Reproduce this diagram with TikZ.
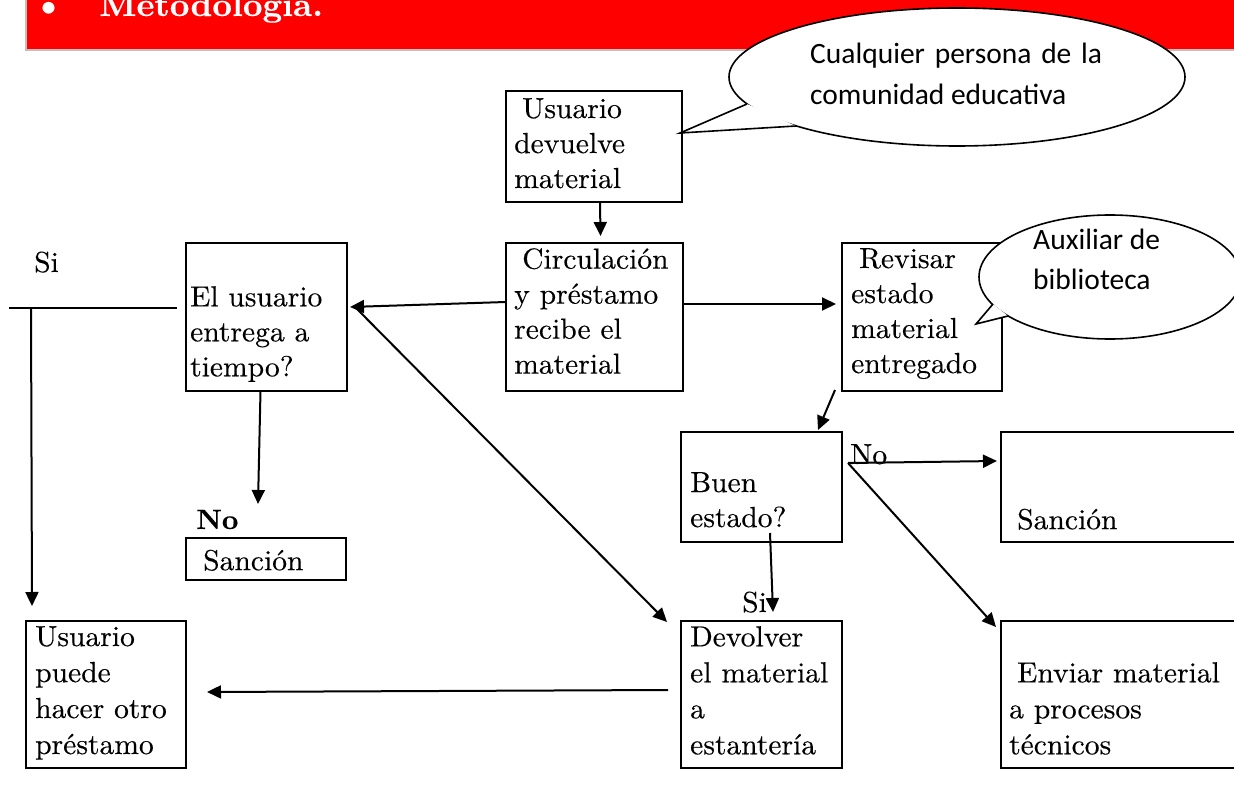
\documentclass[tikz,border=0pt]{standalone}
\usepackage{fontspec}
\setmainfont{lmroman10-regular.otf}[
  BoldFont=lmroman10-bold.otf,
  ItalicFont=lmroman10-italic.otf,
  BoldItalicFont=lmroman10-bolditalic.otf,
  FakeStretch=1.02, FakeBold=0.3]
\newfontfamily\calloutfont{Carlito}
\usetikzlibrary{arrows.meta}
\definecolor{bandred}{RGB}{255,0,0}
\definecolor{bandedge}{RGB}{191,191,191}
\begin{document}
\begin{tikzpicture}[x=1pt,y=-1pt,
  box/.style={draw=black, line width=2pt, anchor=north west, inner sep=0pt, outer sep=0pt},
  txt/.style={anchor=north west, inner sep=0pt, align=left,
    font=\fontsize{29}{35}\selectfont, execute at begin node={\rule{0pt}{24pt}}},
  txtwide/.style={txt, font=\fontsize{29}{36}\selectfont},
  lbl/.style={anchor=base west, inner sep=0pt, font=\fontsize{29}{35}\selectfont},
  bubble/.style={draw=black, line width=1.6pt, fill=white},
  bubtxt/.style={anchor=north west, inner sep=0pt, align=left,
    font=\calloutfont\fontsize{29.5}{41}\selectfont, execute at begin node={\rule{0pt}{24pt}}},
  link/.style={draw=black, line width=2pt},
  arr/.style={link, -{Triangle[length=14pt,width=13pt]}}]
\useasboundingbox (0,0) rectangle (1234,805);

% heading band
\fill[bandred] (25,0) rectangle (1240,49);
\draw[bandedge, line width=2pt] (26,0) -- (26,50) -- (1240,50);
\node[anchor=base, inner sep=0pt, text=white, font=\fontsize{40}{40}\selectfont] (bullet) at (48.5,17) {\textbullet};
\node[anchor=base west, inner sep=0pt, text=white, font=\fontsize{33.5}{33.5}\selectfont\bfseries] (title) at (99,16) {Metodología.};

% process boxes
\node[box, minimum width=176pt, minimum height=111pt] (dev) at (506,91) {};
\node[box, minimum width=177pt, minimum height=148pt] (circ) at (506,243) {};
\node[box, minimum width=160pt, minimum height=148pt] (rev) at (842,243) {};
\node[box, minimum width=161pt, minimum height=148pt] (usr) at (186,243) {};
\node[box, minimum width=161pt, minimum height=110pt] (buen) at (681,432) {};
\node[box, minimum width=260pt, minimum height=110pt] (sanR) at (1001,432) {};
\node[box, minimum width=160pt, minimum height=42pt] (sanL) at (186,538) {};
\node[box, minimum width=160pt, minimum height=147pt] (puede) at (26,621) {};
\node[box, minimum width=161pt, minimum height=147pt] (devol) at (681,621) {};
\node[box, minimum width=260pt, minimum height=147pt] (env) at (1001,621) {};

% speech bubble: community
\draw[bubble] (957,77) ellipse [x radius=228pt, y radius=69pt];
\fill[white] (747,104) -- (680,133) -- (796,126) -- cycle;
\draw[black, line width=1.6pt, line join=miter] (747,104) -- (680,133) -- (796,126);
\node[bubtxt] (comm) at (810,43) {\makebox[292pt][s]{Cualquier persona de la}\\comunidad educativa};

% speech bubble: assistant
\draw[bubble] (1110,277) ellipse [x radius=131pt, y radius=62pt];
\fill[white] (993,304) -- (976,324) -- (1008,316) -- cycle;
\draw[black, line width=1.6pt, line join=miter] (993,304) -- (976,324) -- (1008,316);
\node[bubtxt, font=\calloutfont\fontsize{29.5}{40}\selectfont] (aux) at (1033,229) {Auxiliar de\\biblioteca};

% box texts
\node[txt] (t-dev) at (514,98) {\hspace*{8pt}Usuario\\devuelve\\material};
\node[txt] (t-circ) at (514,248) {\hspace*{8pt}Circulación\\y préstamo\\recibe el\\material};
\node[txt] (t-rev) at (851,248) {\hspace*{8pt}Revisar\\estado\\material\\entregado};
\node[txt] (t-usr) at (190,286) {El usuario\\entrega a\\tiempo?};
\node[txt] (t-buen) at (690,472) {Buen\\estado?};
\node[txt] (t-sanR) at (1009,505) {\hspace*{8pt}Sanción};
\node[txt] (t-sanL) at (195,546) {\hspace*{8pt}Sanción};
\node[txtwide] (t-puede) at (35,626) {Usuario\\puede\\hacer otro\\préstamo};
\node[txtwide] (t-devol) at (690,626) {Devolver\\el material\\a\\estantería};
\node[txtwide] (t-env) at (1009,662) {\hspace*{8pt}Enviar material\\a procesos\\técnicos};

% branch labels
\node[lbl] (si-top) at (34,272) {Si};
\node[lbl, font=\fontsize{28}{35}\selectfont\bfseries] (no-left) at (196,529) {No};
\node[lbl] (no-right) at (850,464) {No};
\node[lbl] (si-low) at (742,612) {Si};

% connectors
\coordinate (si-l) at (9,308);
\coordinate (si-j) at (31,308);
\coordinate (no-r) at ([shift={(6,31)}]buen.north east);

\draw[arr] ([shift={(6,0)}]dev.south) -- ([shift={(6,-7)}]circ.north);
\draw[arr] ([shift={(0,-15)}]circ.west) -- ([shift={(3,-10)}]usr.east);
\draw[arr] ([shift={(0,-13)}]circ.east) -- ([shift={(-6,-13)}]rev.west);
\draw[arr] ([shift={(10,-8)}]usr.east) -- ([shift={(-14,1)}]devol.north west);
\draw[arr] ([shift={(-6,0)}]usr.south) -- ([shift={(-8,-34)}]sanL.north);
\draw[link] (si-l) -- ([shift={(-9,-9)}]usr.west);
\draw[arr] (si-j) -- ([shift={(6,-15)}]puede.north west);
\draw[arr] ([shift={(-7,-1)}]rev.south west) -- ([shift={(-24,-2)}]buen.north east);
\draw[arr] ([shift={(8.5,-9)}]buen.south) -- ([shift={(11.5,-9)}]devol.north);
\draw[arr] (no-r) -- ([shift={(-4,29)}]sanR.north west);
\draw[arr] (no-r) -- ([shift={(-5,6)}]env.north west);
\draw[arr] ([shift={(-13,-4.5)}]devol.west) -- ([shift={(21,-2.5)}]puede.east);
\end{tikzpicture}
\end{document}
